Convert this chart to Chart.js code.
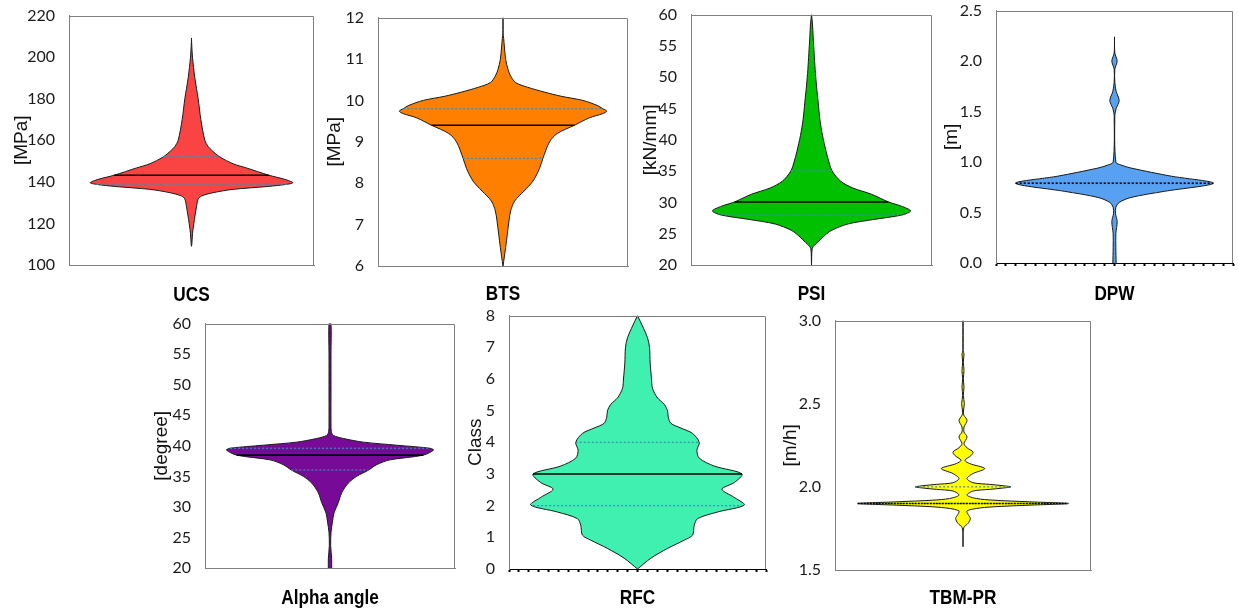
<!DOCTYPE html>
<html><head><meta charset="utf-8">
<script src="https://cdn.jsdelivr.net/npm/chart.js@4.4.1/dist/chart.umd.min.js"></script>
<style>
html,body{margin:0;padding:0;background:#fff;width:1238px;height:614px;overflow:hidden;position:relative}
canvas{position:absolute}
</style></head><body>
<script>
// ---------- DATA (value levels, relative violin half-widths, [Q1, median, Q3], axis ticks) ----------
const ucsValues = [109, 110, 115, 120, 128, 131.7, 133.2, 134.8, 136.4, 137.8, 138.8, 139.6, 141.2, 143.2, 146.7, 148.7, 152, 155, 157, 160, 170, 180, 190, 200, 205, 209.2];
const ucsWidths = [0, 1, 3, 7, 15, 20, 30, 65, 125, 230, 285, 304, 280, 232, 165, 125, 85, 62, 50, 40, 28, 20, 10, 3, 1, 0];
const ucsStats = [138.8, 143.2, 152.2];
const ucsTicks = [100, 120, 140, 160, 180, 200, 220];

const btsValues = [6.0, 6.22, 6.45, 6.77, 7.09, 7.33, 7.57, 7.81, 8.05, 8.36, 8.6, 9.0, 9.2, 9.4, 9.58, 9.68, 9.74, 9.8, 9.88, 10.0, 10.1, 10.2, 10.32, 10.43, 10.59, 10.75, 10.99, 11.31, 11.5, 11.63, 12.0];
const btsWidths = [0, 4, 8, 13, 18, 23, 35, 63, 90, 110, 120, 140, 163, 215, 260, 300, 312, 300, 283, 240, 175, 125, 73, 38, 23, 15, 8, 4, 2, 0, 0];
const btsStats = [8.6, 9.4, 9.8];
const btsTicks = [6, 7, 8, 9, 10, 11, 12];

const psiValues = [20, 22.6, 23.1, 23.67, 24.45, 25.5, 26.55, 27.3, 28.0, 28.65, 29.4, 30.06, 31.3, 32.3, 33.4, 35.0, 36.5, 38.1, 40.7, 43.3, 46.0, 48.6, 51.2, 53.8, 56.4, 58.5, 60];
const psiWidths = [0, 2, 8, 19, 34, 59, 109, 190, 272, 297, 269, 231, 180, 124, 87, 62, 52, 44, 33, 25, 20, 15, 11, 8, 5, 3, 0];
const psiStats = [28.0, 30.07, 35.05];
const psiTicks = [20, 25, 30, 35, 40, 45, 50, 55, 60];

const dpwValues = [0, 0.15, 0.29, 0.41, 0.49, 0.55, 0.60, 0.65, 0.71, 0.79, 0.86, 0.94, 0.97, 1.0, 1.46, 1.53, 1.61, 1.70, 1.79, 1.92, 2.0, 2.08, 2.24];
const dpwWidths = [5, 4, 4, 8, 3, 4, 14, 50, 150, 296, 170, 50, 20, 4, 1, 5, 14, 5, 1, 1, 8, 1, 0];
const dpwStats = [0.79, 0.79, 0.79];
const dpwTicks = [0, 0.5, 1.0, 1.5, 2.0, 2.5];

const alphaValues = [20, 21.5, 23.7, 25.8, 27.4, 29.0, 30.7, 32.3, 33.9, 35.0, 36.0, 36.9, 37.7, 38.47, 39.3, 39.6, 40.1, 40.6, 41.2, 41.7, 42.3, 43.6, 50, 55, 60];
const alphaWidths = [5, 5, 2, 3, 7, 12, 25, 35, 55, 80, 115, 140, 180, 280, 311, 300, 200, 100, 40, 10, 4, 3, 3, 3, 3];
const alphaStats = [36.04, 38.47, 39.6];
const alphaTicks = [20, 25, 30, 35, 40, 45, 50, 55, 60];

const rfcValues = [0, 0.34, 0.65, 0.91, 1.07, 1.38, 1.59, 1.80, 2.02, 2.26, 2.52, 2.73, 3.0, 3.25, 3.5, 3.75, 4.0, 4.28, 4.45, 4.6, 4.8, 5.0, 5.2, 5.4, 5.7, 6.0, 6.5, 7.0, 7.3, 7.6, 8.0];
const rfcWidths = [0, 40, 90, 140, 165, 170, 180, 240, 320, 290, 253, 290, 313, 230, 185, 178, 185, 165, 130, 100, 92, 90, 80, 60, 45, 42, 38, 36, 30, 18, 0];
const rfcStats = [2, 3, 4];
const rfcTicks = [0, 1, 2, 3, 4, 5, 6, 7, 8];

const tbmValues = [1.64, 1.71, 1.757, 1.78, 1.81, 1.835, 1.855, 1.87, 1.88, 1.89, 1.90, 1.91, 1.92, 1.93, 1.95, 1.975, 1.985, 1.993, 2.0, 2.007, 2.015, 2.025, 2.05, 2.08, 2.11, 2.14, 2.16, 2.19, 2.21, 2.235, 2.26, 2.30, 2.33, 2.36, 2.40, 2.43, 2.45, 2.50, 2.55, 2.60, 2.65, 2.70, 2.75, 2.80, 2.82, 3.0];
const tbmWidths = [0, 0, 3, 15, 22, 15, 12, 40, 90, 200, 315, 200, 90, 40, 12, 30, 80, 120, 143, 120, 80, 30, 12, 30, 65, 20, 6, 25, 30, 12, 3, 12, 3, 3, 12, 3, 1, 4, 1, 3, 1, 3, 1, 3, 0, 0];
const tbmStats = [1.9, 1.9, 2.0];
const tbmTicks = [1.5, 2.0, 2.5, 3.0];

// ---------- PANEL LAYOUT / STYLE ----------
const panels = [
  {title: 'UCS', yTitle: '[MPa]', values: ucsValues, widths: ucsWidths, stats: ucsStats, ticks: ucsTicks, dec: 0,
   color: '#fa4444', box: [69, 314, 12, 265], yTitleX: 21, xOff: 30, half: 367.5, medDash: [], dots: 0},
  {title: 'BTS', yTitle: '[MPa]', values: btsValues, widths: btsWidths, stats: btsStats, ticks: btsTicks, dec: 0,
   color: '#ff8000', box: [378, 628, 14, 266], yTitleX: 334.7, xOff: 28.5, half: 376, medDash: [], dots: 0},
  {title: 'PSI', yTitle: '[kN/mm]', values: psiValues, widths: psiWidths, stats: psiStats, ticks: psiTicks, dec: 0,
   color: '#00c000', box: [691, 932, 11, 265], yTitleX: 650.5, xOff: 29, half: 361, medDash: [], dots: 0},
  {title: 'DPW', yTitle: '[m]', values: dpwValues, widths: dpwWidths, stats: dpwStats, ticks: dpwTicks, dec: 1,
   color: '#57a0f2', box: [996, 1233, 7, 263], yTitleX: 951.3, xOff: 31, half: 355, medDash: [2, 2], dots: 24},
  {title: 'Alpha angle', yTitle: '[degree]', values: alphaValues, widths: alphaWidths, stats: alphaStats, ticks: alphaTicks, dec: 0,
   color: '#780a98', box: [205, 455, 320, 568], yTitleX: 161.7, xOff: 30, half: 375.5, medDash: [], dots: 0},
  {title: 'RFC', yTitle: 'Class', values: rfcValues, widths: rfcWidths, stats: rfcStats, ticks: rfcTicks, dec: 0,
   color: '#40f0b0', box: [509, 766, 312, 569], yTitleX: 475, xOff: 29, half: 385, medDash: [], dots: 26},
  {title: 'TBM-PR', yTitle: '[m/h]', values: tbmValues, widths: tbmWidths, stats: tbmStats, ticks: tbmTicks, dec: 1,
   color: '#ffff00', box: [835, 1091, 317, 570], yTitleX: 790, xOff: 28, half: 383, medDash: [2, 1], dots: 0}
];

const framePlugin = {
  id: 'frame',
  afterDraw(chart) {
    const {ctx, chartArea: a} = chart;
    ctx.save();
    ctx.strokeStyle = '#808080';
    ctx.lineWidth = 1;
    ctx.beginPath();
    const l = Math.round(a.left) + 0.5, r = Math.round(a.right) - 0.5, t = Math.round(a.top) + 0.5, b = Math.round(a.bottom);
    ctx.moveTo(l, t); ctx.lineTo(r, t); ctx.lineTo(r, b);
    ctx.stroke();
    // condensed bold category title under the plot (Arial Narrow look)
    const o = chart.options.plugins.frame;
    ctx.fillStyle = '#000';
    ctx.font = "bold 20px 'Liberation Sans', Arial, sans-serif";
    ctx.textAlign = 'center';
    ctx.textBaseline = 'middle';
    ctx.translate((a.left + a.right) / 2, a.bottom + o.offset);
    ctx.scale(0.86, 1);
    ctx.fillText(o.text, 0, 0);
    ctx.restore();
  }
};

function widthAt(values, widths, v) {
  for (let i = 0; i < values.length - 1; i++) {
    if (v >= values[i] && v <= values[i + 1]) {
      const f = (v - values[i]) / (values[i + 1] - values[i]);
      return widths[i] + f * (widths[i + 1] - widths[i]);
    }
  }
  return 0;
}

const PAD_TOP = 12, PAD_RIGHT = 6;
panels.forEach(p => {
  const [L, R, T, B] = p.box;
  const cLeft = Math.round(p.yTitleX - 11.4);
  const yW = L - cLeft;
  const H = Math.round(p.xOff + 12);
  const cTop = T - PAD_TOP;
  const w = R - cLeft + PAD_RIGHT;
  const h = B + H - cTop;
  const cv = document.createElement('canvas');
  cv.width = w; cv.height = h;
  cv.style.left = cLeft + 'px'; cv.style.top = cTop + 'px';
  cv.style.width = w + 'px'; cv.style.height = h + 'px';
  document.body.appendChild(cv);

  const poly = [];
  for (let i = 0; i < p.values.length; i++) poly.push({x: p.widths[i], y: p.values[i]});
  for (let i = p.values.length - 1; i >= 0; i--) poly.push({x: -p.widths[i], y: p.values[i]});

  const datasets = [];
  p.stats.forEach((s, k) => {
    const ww = widthAt(p.values, p.widths, s);
    const isMed = k === 1;
    datasets.push({
      data: [{x: -ww, y: s}, {x: ww, y: s}],
      borderColor: isMed ? '#000' : '#3f8cb3',
      borderWidth: isMed ? 1.6 : 1.2,
      borderDash: isMed ? p.medDash : [2, 2],
      fill: false, tension: 0, pointRadius: 0, order: isMed ? 0 : 1
    });
  });
  datasets.push({
    data: poly, backgroundColor: p.color, borderColor: '#1a1a1a', borderWidth: 1,
    fill: 'shape', tension: 0.3, pointRadius: 0, order: 5
  });

  new Chart(cv, {
    type: 'line',
    data: {datasets},
    plugins: [framePlugin],
    options: {
      responsive: false, animation: false, devicePixelRatio: 1,
      layout: {padding: {top: PAD_TOP, right: PAD_RIGHT, left: 0, bottom: 0}},
      plugins: {legend: {display: false}, tooltip: {enabled: false}, frame: {text: p.title, offset: p.xOff}},
      elements: {point: {radius: 0}},
      scales: {
        x: {
          type: 'linear', min: -p.half, max: p.half,
          ticks: {display: false},
          grid: {display: p.dots > 0, drawOnChartArea: false, drawTicks: true, tickLength: 3, tickWidth: 2, color: '#000'},
          border: {display: true, color: p.dots > 0 ? '#000' : '#808080', width: 1},
          title: {display: false, text: p.title},
          afterBuildTicks: a => {
            const n = Math.max(p.dots, 2);
            const t = [];
            for (let i = 0; i <= n; i++) t.push({value: a.min + i * (a.max - a.min) / n});
            a.ticks = t;
          },
          afterFit: a => { a.height = H; }
        },
        y: {
          type: 'linear', min: p.ticks[0], max: p.ticks[p.ticks.length - 1],
          ticks: {color: '#1a1a1a', padding: 6, autoSkip: false, font: {family: 'Lato', size: 16},
                  callback: v => Number(v).toFixed(p.dec)},
          grid: {display: false},
          border: {display: true, color: '#808080', width: 1},
          title: {display: true, text: p.yTitle, color: '#111', padding: 0,
                  font: {family: "'Liberation Sans', Arial, sans-serif", size: 19}},
          afterBuildTicks: a => { a.ticks = p.ticks.map(v => ({value: v})); },
          afterFit: a => { a.width = yW; }
        }
      }
    }
  });
});
</script>
</body></html>
